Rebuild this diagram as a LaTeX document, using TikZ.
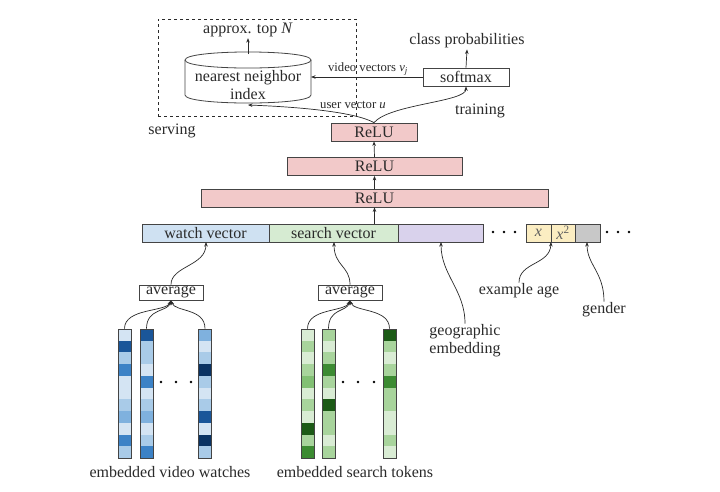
\documentclass[tikz,border=0pt]{standalone}
\usepackage{fontspec}
\setmainfont{Liberation Serif}
\usetikzlibrary{arrows.meta,calc}
\definecolor{ink}{HTML}{2A2A2A}
\definecolor{edge}{HTML}{444444}
\definecolor{relu}{HTML}{F2C9C9}
\definecolor{watchc}{HTML}{CFE1F2}
\definecolor{searchc}{HTML}{D6EBD2}
\definecolor{geoc}{HTML}{D9D2EC}
\definecolor{agec}{HTML}{FBEDC2}
\definecolor{genc}{HTML}{C8C8C8}
\definecolor{b1}{HTML}{D4E4F3}
\definecolor{b2}{HTML}{A9CBE8}
\definecolor{b3}{HTML}{7FB1DE}
\definecolor{b4}{HTML}{3C82C6}
\definecolor{b5}{HTML}{1A5699}
\definecolor{b6}{HTML}{0B3363}
\definecolor{g1}{HTML}{D9ECD4}
\definecolor{g2}{HTML}{A8D49C}
\definecolor{g3}{HTML}{82C074}
\definecolor{g4}{HTML}{3C8B32}
\definecolor{g5}{HTML}{1C5A16}
\newcommand\lbltext{\fontsize{16}{18}\selectfont}
\newcommand\smltext{\fontsize{12.7}{14}\selectfont}
\tikzset{
  lbl/.style={text=ink, font=\lbltext, inner sep=1pt},
  sml/.style={text=ink, font=\smltext, inner sep=1pt},
  box/.style={draw=edge, line width=0.8pt, minimum height=18pt, inner sep=0pt, text=ink, font=\lbltext},
  colbox/.style={draw=edge, line width=0.8pt, minimum width=13pt, minimum height=129pt, inner sep=0pt},
  arr/.style={draw=ink, line width=0.7pt, -{Stealth[length=4.5pt,width=3.5pt]}},
  dot/.style={fill=black, circle, inner sep=0pt, minimum size=2.8pt}
}
\begin{document}
\begin{tikzpicture}[x=1pt,y=-1pt]
\useasboundingbox[fill=white] (0,0) rectangle (720,491);

% serving area
\node[draw=ink, dashed, line width=0.8pt, minimum width=198pt, minimum height=97pt, inner sep=0pt] (serve) at (257,67.5) {};
% cylinder
\draw[edge, line width=0.8pt, fill=white] (185,60) -- (185,95) .. controls (185,105.7) and (311,105.7) .. (311,95) -- (311,60);
\draw[edge, line width=0.8pt] (185,60) .. controls (185,49.3) and (311,49.3) .. (311,60) .. controls (311,70.7) and (185,70.7) .. (185,60);
\node[lbl, align=center] (nn) at (248,85.5) {nearest neighbor\\index};
\coordinate (cylT) at (248,54);
\coordinate (cylB) at (248,105);
\coordinate (cylR) at (311,77);
\node[lbl] (topn) at (248,30) {approx. top \textit{N}};
\draw[arr] (cylT) -- (topn.south);

\node[box, minimum width=86pt] (sm) at (466,77) {softmax};
\node[lbl] (cp) at (467,41) {class probabilities};
\draw[arr] (sm.north) -- (cp.south);
\draw[arr] (sm.west) -- (cylR);
\node[sml] (vv) at (368,69) {video vectors \textit{v}\textsubscript{\textit{j}}};
\node[sml] (uv) at (353,105) {user vector \textit{u}};
\node[lbl] (srv) at (172,131) {serving};
\node[lbl] (trn) at (480,111) {training};

% ReLU stack
\node[box, fill=relu, minimum width=86pt] (r1) at (374,132) {ReLU};
\node[box, fill=relu, minimum width=175pt] (r2) at (374.5,166.5) {ReLU};
\node[box, fill=relu, minimum width=347pt] (r3) at (374.5,198) {ReLU};
\draw[arr] (r2.north) -- (r1.south);
\draw[arr] (r3.north) -- (r2.south);
\draw[arr] (r1.north) .. controls (355,112) and (300,107) .. (cylB);
\draw[arr] (r1.north) .. controls (390,104) and (466,102) .. (sm.south);

% input row
\node[box, fill=watchc, minimum width=127pt] (wv) at (205.5,233) {watch vector};
\node[box, fill=searchc, minimum width=129pt] (sv) at (333.5,233) {search vector};
\node[box, fill=geoc, minimum width=85pt] (geo) at (440.5,233) {};
\node[box, fill=agec, minimum width=25pt, text=ink!75] (xa) at (538.5,233) {\textit{x}};
\node[box, fill=agec, minimum width=24pt, text=ink!75] (xb) at (563,233) {\textit{x}\textsuperscript{2}};
\node[box, fill=genc, minimum width=25pt] (gen) at (587.5,233) {};
\draw[arr] (sv.north -| r3.south) -- (r3.south);
\foreach \xx in {493,504,515,607,618,629} \node[dot] at (\xx,232) {};

% labels below row
\node[lbl, align=left] (geol) at (465,341) {geographic\\embedding};
\node[lbl] (agel) at (519,291) {example age};
\node[lbl] (genl) at (604,310) {gender};
\coordinate (geoB) at (441,242);
\coordinate (ageB) at (551,242);
\coordinate (genB) at (587,242);
\draw[arr] (geol.north) .. controls (465,290) and (441,275) .. (geoB);
\draw[arr] (agel.north) .. controls (519,262) and (550,265) .. (ageB);
\draw[arr] (genl.north) .. controls (604,272) and (587,265) .. (genB);

% averages
\node[box, fill=white, minimum width=64pt, minimum height=15pt] (avg1) at (171,292.5) {average};
\node[box, fill=white, minimum width=64pt, minimum height=15pt] (avg2) at (350,292.5) {average};
\coordinate (wvB) at (206,242);
\coordinate (svB) at (334,242);
\draw[arr] (avg1.north) .. controls (171,266) and (206,266) .. (wvB);
\draw[arr] (avg2.north) .. controls (350,266) and (334,266) .. (svB);

% embedded columns
\foreach \c [count=\i from 0] in {b1,b5,b2,b4,b1,b1,b2,b3,b1,b4,b2}
  \fill[\c] (118,{329+\i*11.727}) rectangle ++(13,11.727);
\foreach \c [count=\i from 0] in {b5,b2,b2,b1,b4,b1,b2,b3,b1,b2,b4}
  \fill[\c] (140,{329+\i*11.727}) rectangle ++(13,11.727);
\foreach \c [count=\i from 0] in {b3,b1,b2,b6,b2,b1,b2,b5,b1,b6,b2}
  \fill[\c] (198.5,{329+\i*11.727}) rectangle ++(13,11.727);
\foreach \c [count=\i from 0] in {g1,g2,g1,g2,g3,g1,g2,g1,g5,g2,g4}
  \fill[\c] (301,{329+\i*11.727}) rectangle ++(13,11.727);
\foreach \c [count=\i from 0] in {g2,g1,g2,g4,g2,g1,g5,g2,g2,g1,g2}
  \fill[\c] (322,{329+\i*11.727}) rectangle ++(13,11.727);
\foreach \c [count=\i from 0] in {g5,g2,g1,g2,g4,g2,g2,g1,g1,g2,g1}
  \fill[\c] (383,{329+\i*11.727}) rectangle ++(13,11.727);
\node[colbox] (v1) at (124.5,393.5) {};
\node[colbox] (v2) at (146.5,393.5) {};
\node[colbox] (v3) at (205,393.5) {};
\node[colbox] (s1) at (307.5,393.5) {};
\node[colbox] (s2) at (328.5,393.5) {};
\node[colbox] (s3) at (389.5,393.5) {};
\foreach \xx in {161,176,191,343,358,374} \node[dot] at (\xx,382) {};

\draw[arr] (v1.north) .. controls (124.5,308) and (166,312) .. (avg1.south);
\draw[arr] (v2.north) .. controls (146.5,308) and (168,312) .. (avg1.south);
\draw[arr] (v3.north) .. controls (205,308) and (175,312) .. (avg1.south);
\draw[arr] (s1.north) .. controls (307.5,308) and (345,312) .. (avg2.south);
\draw[arr] (s2.north) .. controls (328.5,308) and (347,312) .. (avg2.south);
\draw[arr] (s3.north) .. controls (389.5,308) and (354,312) .. (avg2.south);

\node[lbl] (evw) at (170,472) {embedded video watches};
\node[lbl] (est) at (355,472) {embedded search tokens};
\end{tikzpicture}
\end{document}
